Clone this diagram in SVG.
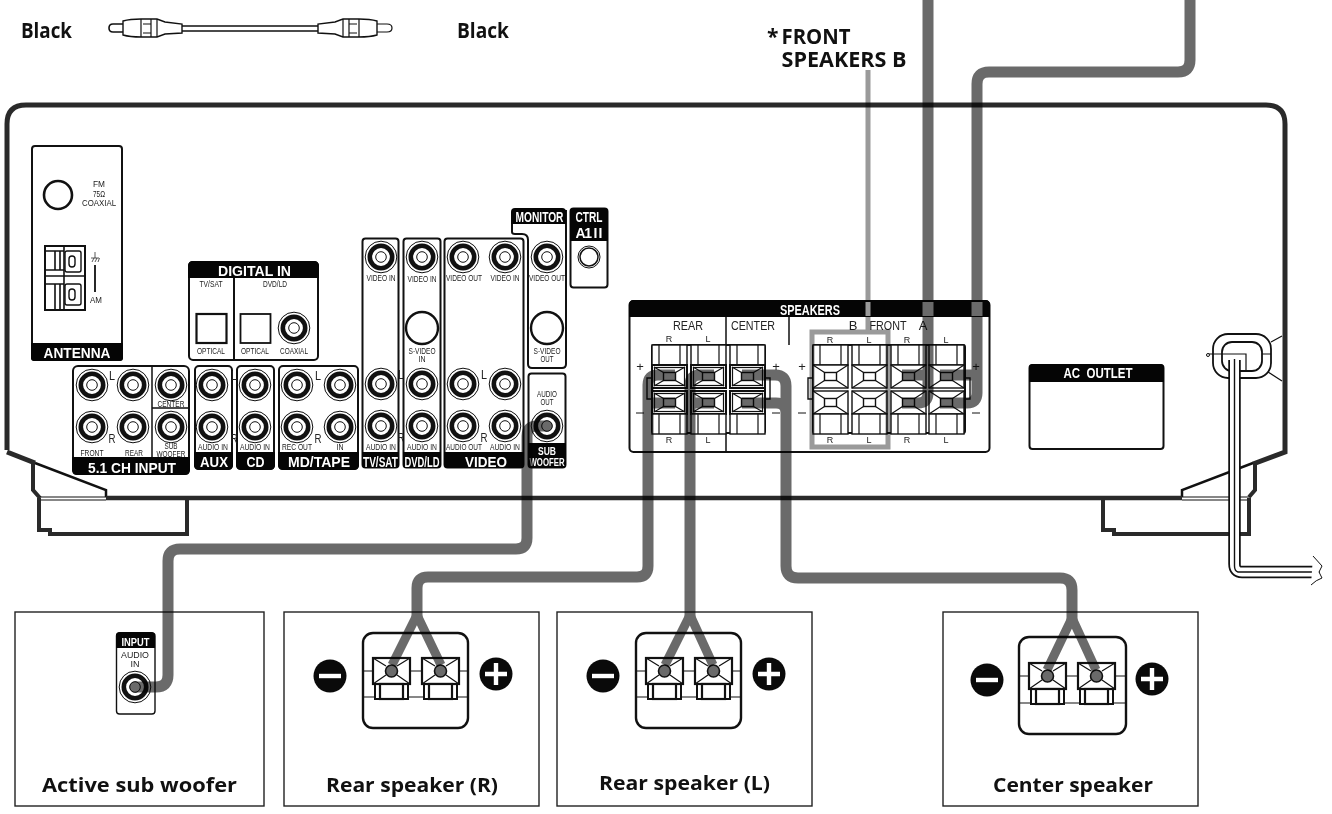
<svg xmlns="http://www.w3.org/2000/svg" xmlns:xlink="http://www.w3.org/1999/xlink" width="1332" height="814" viewBox="0 0 1332 814">
<style>
text{font-family:"Liberation Sans",Arial,sans-serif;fill:#222;text-anchor:middle}
.cap{font-family:"Open Sans","Noto Sans",sans-serif;font-weight:700;fill:#111;font-size:21px;text-anchor:start}
.capc{font-family:"Open Sans","Noto Sans",sans-serif;font-weight:700;fill:#111;font-size:20px;text-anchor:start}
.w{fill:#fff;font-weight:700;font-size:14px}
.s{font-size:9px}
.m{font-size:13px}
.box{fill:#fff;stroke:#111;stroke-width:2}
.thin{fill:none;stroke:#111;stroke-width:1.200}
.tf{fill:#fff;stroke:#111;stroke-width:1.400}
.hd{fill:#050505}
.ch{fill:none;stroke:#2a2a2a;stroke-width:5}
.cab{fill:none;stroke:#6a6a6a;stroke-width:11}
.fork{fill:none;stroke:#6a6a6a;stroke-width:9;stroke-linejoin:bevel}
.panel{fill:#fff;stroke:#222;stroke-width:1.400}
.bx{fill:#fff;stroke:#111;stroke-width:2.400}
</style>
<defs>
<g id="jack"><circle r="15.800" fill="#fff" stroke="#111" stroke-width="1"/><circle r="11.200" fill="#fff" stroke="#111" stroke-width="4.600"/><circle r="5.300" fill="#fff" stroke="#111" stroke-width="1"/></g>
<g id="sq"><rect width="35" height="23" class="tf"/><rect x="11.500" y="7.500" width="12" height="8" class="tf"/><path d="M0 0 11.500 7.500M35 0 23.500 7.500M0 23 11.500 15.500M35 23 23.500 15.500" class="thin"/></g>
<g id="sqr"><rect width="35" height="23" fill="#fff" stroke="#111" stroke-width="2"/><rect x="2.500" y="2.500" width="30" height="18" class="thin"/><rect x="11.500" y="7.500" width="12" height="8" class="tf"/><path d="M2 2 11.500 7.500M33 2 23.500 7.500M2 21 11.500 15.500M33 21 23.500 15.500" class="thin"/></g>
<g id="term"><path d="M2 26V41H35V26" fill="#fff" stroke="#111" stroke-width="2"/><rect width="37" height="26" fill="#fff" stroke="#111" stroke-width="2.200"/><path d="M0 0 13 8M37 0 24 8M0 26 13 17M37 26 24 17" class="thin"/><rect x="7" y="26" width="23" height="15" fill="#fff" stroke="#111" stroke-width="2.200"/><circle cx="18.500" cy="13" r="6" fill="#6a6a6a" stroke="#111" stroke-width="1.600"/></g>
<g id="cellT"><rect width="35" height="20" class="tf"/><path d="M7 0V20M28 0V20" class="thin"/></g>
<g id="minus"><circle r="16.500" fill="#0a0a0a"/><rect x="-11" y="-2.200" width="22" height="4.400" fill="#fff"/></g>
<g id="plus"><circle r="16.500" fill="#0a0a0a"/><path d="M-11 0H11M0-11V11" stroke="#fff" stroke-width="4.400"/></g>
</defs>
<rect width="1332" height="814" fill="#fff"/>

<g id="rca-cable">
<text class="cap" x="21" y="38" textLength="51" lengthAdjust="spacingAndGlyphs">Black</text>
<text class="cap" x="457" y="38" textLength="52" lengthAdjust="spacingAndGlyphs">Black</text>
<path d="M123 24H113Q109 24 109 28Q109 32 113 32H123M182 26H318M182 31H318" fill="none" stroke="#111" stroke-width="1.600"/>
<path d="M123 21Q130 19 141 19H157L165 22L182 24V33L165 34L157 37H141Q130 37 123 35Z" class="tf"/>
<path d="M141 19V37M151 19V37M157 19V37M143 24H151M143 33H151" class="thin"/>
<path d="M377 24H387Q392 24 392 28Q392 32 387 32H377" class="thin"/>
<path d="M377 21Q370 19 359 19H343L335 22L318 24V33L335 34L343 37H359Q370 37 377 35Z" class="tf"/>
<path d="M359 19V37M349 19V37M343 19V37M357 24H349M357 33H349" class="thin"/>
</g>
<g id="front-b-label">
<text class="cap" x="767" y="44">*</text>
<text class="cap" x="781.500" y="44" textLength="69" lengthAdjust="spacingAndGlyphs">FRONT</text>
<text class="cap" x="781.500" y="67" textLength="125" lengthAdjust="spacingAndGlyphs">SPEAKERS B</text>
</g>

<g id="chassis">
<path d="M7 450V124Q7 105 26 105H1266Q1285 105 1285 124V452L1253 464" class="ch"/>
<path d="M7 452L35 463" class="ch"/>
<path d="M35 463L106 490V497M1253 463L1182 490V497" fill="none" stroke="#111" stroke-width="2.500"/>
<path d="M33 463V490L40 498M1255 463V490L1249 497" class="ch" style="stroke-width:4"/>
<path d="M106 498H1182" class="ch" style="stroke-width:4.500"/>
<path d="M40 497H106M40 500H106M1182 497H1250M1182 500H1250" class="thin"/>
<path d="M39 498V530H50V534H187V498M1103 498V530H1114V534H1249V498" fill="none" stroke="#2a2a2a" stroke-width="4"/>
</g>

<g id="antenna">
<rect x="32" y="146" width="90" height="214" rx="3" class="box"/>
<path d="M31 343H123V358Q123 361 120 361H34Q31 361 31 358Z" class="hd"/>
<text class="w" x="77" y="358" textLength="67" lengthAdjust="spacingAndGlyphs">ANTENNA</text>
<circle cx="58" cy="195" r="14" fill="#fff" stroke="#111" stroke-width="2.600"/>
<text x="99" y="187" font-size="9" textLength="12" lengthAdjust="spacingAndGlyphs">FM</text><text x="99" y="197" font-size="9" textLength="12" lengthAdjust="spacingAndGlyphs">75Ω</text>
<text x="99" y="206" font-size="9.500" textLength="34" lengthAdjust="spacingAndGlyphs">COAXIAL</text>
<rect x="45" y="246" width="40" height="64" fill="#fff" stroke="#111" stroke-width="2"/>
<path d="M45 251H64M45 270H64M45 276H85M45 284H64M55 251V270M60 251V270M55 284V309M60 284V309M64 246V310" fill="none" stroke="#111" stroke-width="1.600"/>
<rect x="65" y="251" width="16" height="21" rx="2" class="tf"/><rect x="65" y="284" width="16" height="21" rx="2" class="tf"/>
<rect x="69" y="256" width="6" height="11" rx="3" class="tf"/><rect x="69" y="289" width="6" height="11" rx="3" class="tf"/>
<path d="M95 252V258M91 258H99M92 262L94 258M95 262L97 258M98 262L99.500 258" class="thin" style="stroke-width:.7"/>
<path d="M95 265V292" stroke="#111" stroke-width="1.800"/>
<text x="96" y="303" font-size="9" textLength="12" lengthAdjust="spacingAndGlyphs">AM</text>
</g>

<g id="digital-in">
<rect x="189" y="262" width="129" height="98" rx="4" class="box"/>
<path d="M188 278V266Q188 261 193 261H314Q319 261 319 266V278Z" class="hd"/>
<text class="w" x="254.500" y="276" textLength="73" lengthAdjust="spacingAndGlyphs">DIGITAL IN</text>
<path d="M234 278V360" stroke="#111" stroke-width="2"/>
<text class="s" x="211" y="287" textLength="23" lengthAdjust="spacingAndGlyphs">TV/SAT</text><text class="s" x="275" y="287" textLength="24" lengthAdjust="spacingAndGlyphs">DVD/LD</text>
<rect x="196.500" y="314" width="30" height="29" fill="#fff" stroke="#111" stroke-width="2.200"/>
<rect x="240.500" y="314" width="30" height="29" fill="#fff" stroke="#111" stroke-width="1.800"/>
<use xlink:href="#jack" href="#jack" x="294" y="328"/>
<text class="s" x="211" y="354" textLength="28" lengthAdjust="spacingAndGlyphs">OPTICAL</text><text class="s" x="255" y="354" textLength="28" lengthAdjust="spacingAndGlyphs">OPTICAL</text><text class="s" x="294" y="354" textLength="28" lengthAdjust="spacingAndGlyphs">COAXIAL</text>
</g>

<g id="ch51">
<rect x="73" y="366" width="116" height="108" rx="5" class="box"/>
<path d="M72 457H190V470Q190 475 185 475H77Q72 475 72 470Z" class="hd"/>
<text class="w" x="132" y="473" textLength="88" lengthAdjust="spacingAndGlyphs">5.1 CH INPUT</text>
<path d="M152 366V457M152 408H189" stroke="#111" stroke-width="1.500"/>
<use xlink:href="#jack" href="#jack" x="92" y="385"/><use xlink:href="#jack" href="#jack" x="133" y="385"/><use xlink:href="#jack" href="#jack" x="171" y="385"/>
<use xlink:href="#jack" href="#jack" x="92" y="427"/><use xlink:href="#jack" href="#jack" x="133" y="427"/><use xlink:href="#jack" href="#jack" x="171" y="427"/>
<text class="m" x="112" y="380" textLength="6" lengthAdjust="spacingAndGlyphs">L</text><text class="m" x="112" y="443" textLength="7" lengthAdjust="spacingAndGlyphs">R</text>
<text class="s" x="92" y="456" textLength="23" lengthAdjust="spacingAndGlyphs">FRONT</text><text class="s" x="134" y="456" textLength="18" lengthAdjust="spacingAndGlyphs">REAR</text>
<text class="s" x="171" y="407" textLength="27" lengthAdjust="spacingAndGlyphs">CENTER</text><text class="s" x="171" y="449" textLength="13" lengthAdjust="spacingAndGlyphs">SUB</text><text class="s" x="171" y="456.500" textLength="29" lengthAdjust="spacingAndGlyphs">WOOFER</text>
</g>

<g id="aux">
<rect x="195" y="366" width="37" height="103" rx="4" class="box"/>
<path d="M194 452H233V465Q233 470 228 470H199Q194 470 194 465Z" class="hd"/>
<text class="w" x="214" y="467" textLength="28" lengthAdjust="spacingAndGlyphs">AUX</text>
<use xlink:href="#jack" href="#jack" x="212" y="385"/><use xlink:href="#jack" href="#jack" x="212" y="427"/>
<text class="s" x="213" y="450" textLength="30" lengthAdjust="spacingAndGlyphs">AUDIO IN</text>
</g>
<g id="cd">
<rect x="237" y="366" width="37" height="103" rx="4" class="box"/>
<path d="M236 452H275V465Q275 470 270 470H241Q236 470 236 465Z" class="hd"/>
<text class="w" x="255.500" y="467" textLength="18" lengthAdjust="spacingAndGlyphs">CD</text>
<use xlink:href="#jack" href="#jack" x="255" y="385"/><use xlink:href="#jack" href="#jack" x="255" y="427"/>
<text class="s" x="255" y="450" textLength="30" lengthAdjust="spacingAndGlyphs">AUDIO IN</text>
<text class="m" x="234" y="380" textLength="6" lengthAdjust="spacingAndGlyphs">L</text><text class="m" x="234" y="443" textLength="7" lengthAdjust="spacingAndGlyphs">R</text>
</g>
<g id="md-tape">
<rect x="279" y="366" width="79" height="103" rx="4" class="box"/>
<path d="M278 452H359V465Q359 470 354 470H283Q278 470 278 465Z" class="hd"/>
<text class="w" x="319" y="467" textLength="62" lengthAdjust="spacingAndGlyphs">MD/TAPE</text>
<use xlink:href="#jack" href="#jack" x="297" y="385"/><use xlink:href="#jack" href="#jack" x="340" y="385"/>
<use xlink:href="#jack" href="#jack" x="297" y="427"/><use xlink:href="#jack" href="#jack" x="340" y="427"/>
<text class="m" x="318" y="380" textLength="6" lengthAdjust="spacingAndGlyphs">L</text><text class="m" x="318" y="443" textLength="7" lengthAdjust="spacingAndGlyphs">R</text>
<text class="s" x="297" y="450" textLength="30" lengthAdjust="spacingAndGlyphs">REC OUT</text><text class="s" x="340" y="450" textLength="7" lengthAdjust="spacingAndGlyphs">IN</text>
</g>
<g id="tv-sat">
<rect x="362.500" y="238.500" width="36" height="229" rx="3" class="box"/>
<path d="M362 452H399V464Q399 468 395 468H366Q362 468 362 464Z" class="hd"/>
<text class="w" x="380.500" y="467" textLength="35" lengthAdjust="spacingAndGlyphs">TV/SAT</text>
<use xlink:href="#jack" href="#jack" x="381" y="257"/><use xlink:href="#jack" href="#jack" x="381" y="384"/><use xlink:href="#jack" href="#jack" x="381" y="426"/>
<text class="s" x="381" y="281" textLength="29" lengthAdjust="spacingAndGlyphs">VIDEO IN</text><text class="s" x="381" y="450" textLength="30" lengthAdjust="spacingAndGlyphs">AUDIO IN</text>
<text class="m" x="401" y="379" textLength="6" lengthAdjust="spacingAndGlyphs">L</text><text class="m" x="401" y="442" textLength="7" lengthAdjust="spacingAndGlyphs">R</text>
</g>
<g id="dvd-ld">
<rect x="403.500" y="238.500" width="37" height="229" rx="3" class="box"/>
<path d="M403 452H441V464Q441 468 437 468H407Q403 468 403 464Z" class="hd"/>
<text class="w" x="422" y="467" textLength="35" lengthAdjust="spacingAndGlyphs">DVD/LD</text>
<use xlink:href="#jack" href="#jack" x="422" y="257"/><circle cx="422" cy="328" r="16" fill="#fff" stroke="#111" stroke-width="2.400"/><use xlink:href="#jack" href="#jack" x="422" y="384"/><use xlink:href="#jack" href="#jack" x="422" y="426"/>
<text class="s" x="422" y="282" textLength="29" lengthAdjust="spacingAndGlyphs">VIDEO IN</text><text class="s" x="422" y="354" textLength="27" lengthAdjust="spacingAndGlyphs">S-VIDEO</text><text class="s" x="422" y="362" textLength="7" lengthAdjust="spacingAndGlyphs">IN</text><text class="s" x="422" y="450" textLength="30" lengthAdjust="spacingAndGlyphs">AUDIO IN</text>
</g>
<g id="video">
<rect x="444.500" y="238.500" width="79" height="229" rx="3" class="box"/>
<path d="M444 452H524V464Q524 468 520 468H448Q444 468 444 464Z" class="hd"/>
<text class="w" x="486" y="467" textLength="42" lengthAdjust="spacingAndGlyphs">VIDEO</text>
<use xlink:href="#jack" href="#jack" x="463" y="257"/><use xlink:href="#jack" href="#jack" x="505" y="257"/><use xlink:href="#jack" href="#jack" x="463" y="384"/><use xlink:href="#jack" href="#jack" x="505" y="384"/><use xlink:href="#jack" href="#jack" x="463" y="426"/><use xlink:href="#jack" href="#jack" x="505" y="426"/>
<text class="s" x="464" y="281" textLength="36" lengthAdjust="spacingAndGlyphs">VIDEO OUT</text><text class="s" x="505" y="281" textLength="29" lengthAdjust="spacingAndGlyphs">VIDEO IN</text><text class="s" x="464" y="450" textLength="36" lengthAdjust="spacingAndGlyphs">AUDIO OUT</text><text class="s" x="505" y="450" textLength="30" lengthAdjust="spacingAndGlyphs">AUDIO IN</text>
<text class="m" x="484" y="379" textLength="6" lengthAdjust="spacingAndGlyphs">L</text><text class="m" x="484" y="442" textLength="7" lengthAdjust="spacingAndGlyphs">R</text>
</g>
<g id="monitor">
<path d="M512 224V232Q512 234 515 234H522Q528 234 528 240V364Q528 368 532 368H562Q566 368 566 364V210" class="box"/>
<path d="M511 224V212Q511 208 515 208H562Q566 208 566 212V224Z" class="hd"/>
<text class="w" x="539.500" y="222" textLength="48" lengthAdjust="spacingAndGlyphs">MONITOR</text>
<use xlink:href="#jack" href="#jack" x="547" y="257"/><circle cx="547" cy="328" r="16" fill="#fff" stroke="#111" stroke-width="2.400"/>
<text class="s" x="547" y="281" textLength="36" lengthAdjust="spacingAndGlyphs">VIDEO OUT</text><text class="s" x="547" y="354" textLength="27" lengthAdjust="spacingAndGlyphs">S-VIDEO</text><text class="s" x="547" y="362" textLength="13" lengthAdjust="spacingAndGlyphs">OUT</text>
</g>
<g id="subwoofer">
<rect x="528.500" y="373.500" width="37" height="94" rx="3" class="box"/>
<path d="M528 443H566V464Q566 468 562 468H532Q528 468 528 464Z" class="hd"/>
<text class="w" x="547" y="455" textLength="18" lengthAdjust="spacingAndGlyphs" style="font-size:11.500px">SUB</text>
<text class="w" x="547" y="466" textLength="35" lengthAdjust="spacingAndGlyphs" style="font-size:11.500px">WOOFER</text>
<text class="s" x="547" y="397" textLength="20" lengthAdjust="spacingAndGlyphs">AUDIO</text><text class="s" x="547" y="405" textLength="13" lengthAdjust="spacingAndGlyphs">OUT</text>
<use xlink:href="#jack" href="#jack" x="547" y="426"/>
</g>
<g id="ctrl">
<rect x="570.500" y="208.500" width="37" height="79" rx="3" class="box"/>
<path d="M570 241V212Q570 208 574 208H604Q608 208 608 212V241Z" class="hd"/>
<text class="w" x="589" y="222" textLength="27" lengthAdjust="spacingAndGlyphs">CTRL</text>
<text class="w" x="589" y="238" textLength="27" lengthAdjust="spacing">A1 I I</text>
<circle cx="589" cy="257" r="11" fill="#fff" stroke="#111" stroke-width="1"/><circle cx="589" cy="257" r="9" fill="#fff" stroke="#111" stroke-width="1.500"/>
</g>

<g id="speakers">
<rect x="629.500" y="301" width="360" height="151" rx="4" class="box"/>
<path d="M629 317V305Q629 300 634 300H985Q990 300 990 305V317Z" class="hd"/>
<text class="w" x="810" y="315" textLength="60" lengthAdjust="spacingAndGlyphs">SPEAKERS</text>
<path d="M726 317V452M789 317V345" stroke="#111" stroke-width="1.500"/>
<text x="688" y="330" font-size="13" textLength="30" lengthAdjust="spacingAndGlyphs">REAR</text><text x="753" y="330" font-size="13" textLength="44" lengthAdjust="spacingAndGlyphs">CENTER</text><text x="853" y="330" font-size="13">B</text><text x="888" y="330" font-size="13" textLength="37" lengthAdjust="spacingAndGlyphs">FRONT</text><text x="923" y="330" font-size="13">A</text>
<g id="rear-terms">
<path d="M652 378H647V399H652M765 378H770V399H765" class="tf"/>
<rect x="652" y="345" width="113" height="88" rx="2" class="box"/>
<use xlink:href="#cellT" href="#cellT" x="652" y="345"/><use xlink:href="#cellT" href="#cellT" x="691" y="345"/><use xlink:href="#cellT" href="#cellT" x="730" y="345"/>
<use xlink:href="#sqr" href="#sqr" x="652" y="365"/><use xlink:href="#sqr" href="#sqr" x="691" y="365"/><use xlink:href="#sqr" href="#sqr" x="730" y="365"/>
<use xlink:href="#sqr" href="#sqr" x="652" y="391"/><use xlink:href="#sqr" href="#sqr" x="691" y="391"/><use xlink:href="#sqr" href="#sqr" x="730" y="391"/>
<use xlink:href="#cellT" href="#cellT" x="652" y="414"/><use xlink:href="#cellT" href="#cellT" x="691" y="414"/><use xlink:href="#cellT" href="#cellT" x="730" y="414"/>
</g>
<g id="front-terms">
<path d="M813 378H808V399H813M965 378H970V399H965" class="tf"/>
<rect x="813" y="345" width="152" height="88" rx="2" class="box"/>
<use xlink:href="#cellT" href="#cellT" x="813" y="345"/><use xlink:href="#cellT" href="#cellT" x="852" y="345"/><use xlink:href="#cellT" href="#cellT" x="891" y="345"/><use xlink:href="#cellT" href="#cellT" x="929" y="345"/>
<use xlink:href="#sq" href="#sq" x="813" y="365"/><use xlink:href="#sq" href="#sq" x="852" y="365"/><use xlink:href="#sq" href="#sq" x="891" y="365"/><use xlink:href="#sq" href="#sq" x="929" y="365"/>
<use xlink:href="#sq" href="#sq" x="813" y="391"/><use xlink:href="#sq" href="#sq" x="852" y="391"/><use xlink:href="#sq" href="#sq" x="891" y="391"/><use xlink:href="#sq" href="#sq" x="929" y="391"/>
<use xlink:href="#cellT" href="#cellT" x="813" y="414"/><use xlink:href="#cellT" href="#cellT" x="852" y="414"/><use xlink:href="#cellT" href="#cellT" x="891" y="414"/><use xlink:href="#cellT" href="#cellT" x="929" y="414"/>
</g>
<text class="s" x="669" y="342">R</text><text class="s" x="708" y="342">L</text><text class="s" x="830" y="343">R</text><text class="s" x="869" y="343">L</text><text class="s" x="907" y="343">R</text><text class="s" x="946" y="343">L</text>
<text class="s" x="669" y="443">R</text><text class="s" x="708" y="443">L</text><text class="s" x="830" y="443">R</text><text class="s" x="869" y="443">L</text><text class="s" x="907" y="443">R</text><text class="s" x="946" y="443">L</text>
<text class="m" x="640" y="371">+</text><text class="m" x="776" y="371">+</text><text class="m" x="802" y="371">+</text><text class="m" x="976" y="371">+</text>
<path d="M636 413H644M772 413H780M798 413H806M972 413H980" stroke="#111"/>
</g>

<g id="ac-outlet">
<rect x="1029.500" y="365" width="134" height="84" rx="3" class="box"/>
<path d="M1029 382V368Q1029 364 1033 364H1160Q1164 364 1164 368V382Z" class="hd"/>
<text class="w" x="1098" y="378" textLength="69" lengthAdjust="spacingAndGlyphs" xml:space="preserve">AC  OUTLET</text>
</g>

<g id="active-sub-woofer">
<rect x="15" y="612" width="249" height="194" class="panel"/>
<rect x="116.500" y="633" width="38.500" height="81" rx="3" class="tf"/>
<path d="M116 648V636Q116 632 120 632H151Q155 632 155 636V648Z" class="hd"/>
<text class="w" x="135.500" y="646" textLength="28" lengthAdjust="spacingAndGlyphs" style="font-size:11px">INPUT</text>
<text x="135" y="658" font-size="9" textLength="28" lengthAdjust="spacingAndGlyphs">AUDIO</text><text x="135" y="667" font-size="9">IN</text>
<use xlink:href="#jack" href="#jack" x="135" y="687"/>
<text class="capc" x="42" y="792" textLength="195" lengthAdjust="spacingAndGlyphs">Active sub woofer</text>
</g>
<g id="rear-speaker-r">
<rect x="284" y="612" width="255" height="194" class="panel"/>
<rect x="363" y="633" width="105" height="95" rx="10" class="bx"/>
<path d="M363 671H373M410 671H422M459 671H468M363 697H468" class="thin"/>
<use xlink:href="#term" href="#term" x="373" y="658"/><use xlink:href="#term" href="#term" x="422" y="658"/>
<use xlink:href="#minus" href="#minus" x="330" y="676"/><use xlink:href="#plus" href="#plus" x="496" y="674"/>
<text class="capc" x="326" y="792" textLength="172" lengthAdjust="spacingAndGlyphs">Rear speaker (R)</text>
</g>
<g id="rear-speaker-l">
<rect x="557" y="612" width="255" height="194" class="panel"/>
<rect x="636" y="633" width="105" height="95" rx="10" class="bx"/>
<path d="M636 671H646M683 671H695M732 671H741M636 697H741" class="thin"/>
<use xlink:href="#term" href="#term" x="646" y="658"/><use xlink:href="#term" href="#term" x="695" y="658"/>
<use xlink:href="#minus" href="#minus" x="603" y="676"/><use xlink:href="#plus" href="#plus" x="769" y="674"/>
<text class="capc" x="599" y="790" textLength="171" lengthAdjust="spacingAndGlyphs">Rear speaker (L)</text>
</g>
<g id="center-speaker">
<rect x="943" y="612" width="255" height="194" class="panel"/>
<rect x="1019" y="637" width="107" height="97" rx="10" class="bx"/>
<path d="M1019 676H1029M1066 676H1078M1115 676H1126M1019 703H1126" class="thin"/>
<use xlink:href="#term" href="#term" x="1029" y="663"/><use xlink:href="#term" href="#term" x="1078" y="663"/>
<use xlink:href="#minus" href="#minus" x="987" y="680"/><use xlink:href="#plus" href="#plus" x="1152" y="679"/>
<text class="capc" x="993" y="792" textLength="160" lengthAdjust="spacingAndGlyphs">Center speaker</text>
</g>

<g id="connectors">
<g style="mix-blend-mode:multiply">
<path d="M868 70V332H812V447H888V332H868" fill="none" stroke="#9a9a9a" stroke-width="5"/>
<path class="cab" d="M928 0V393Q928 403 918 403H902M928 375H902"/>
<path class="cab" d="M1190 0V60Q1190 72 1178 72H989Q977 72 977 84V393Q977 403 967 403H940M977 375H940"/>
<path class="cab" d="M547 426H537Q527 426 527 436V538Q527 549 516 549H180Q168 549 168 561V675Q168 687 156 687H135"/>
<circle cx="547" cy="426" r="5.500" fill="#6a6a6a"/><circle cx="135" cy="687" r="5.500" fill="#6a6a6a"/>
<path class="cab" d="M675 375H658Q648 375 648 385V566Q648 577 637 577H428Q417 577 417 588V620M675 403H648"/>
<path class="fork" d="M392 665L417 615L441 665"/>
<path class="cab" d="M714 375H700Q690 375 690 385V620M714 403H690"/>
<path class="fork" d="M665 665L690 615L713 665"/>
<path class="cab" d="M742 375H775Q786 375 786 386V566Q786 578 798 578H1060Q1072 578 1072 590V622M742 403H776Q786 403 786 413"/>
<path class="fork" d="M1047 670L1072 618L1096 670"/>
</g>
<rect x="865.500" y="302" width="5" height="14" fill="#9a9a9a"/>
<rect x="922.500" y="302" width="11" height="14" fill="#6a6a6a"/>
<rect x="971.500" y="302" width="11" height="14" fill="#6a6a6a"/>
</g>

<g id="power-cord">
<rect x="1213" y="334" width="58" height="44" rx="15" fill="#fff" stroke="#111" stroke-width="1.800"/>
<rect x="1222" y="342" width="40" height="29" rx="10" fill="#fff" stroke="#111" stroke-width="1.800"/>
<path d="M1208 354H1246V371M1262 354H1271M1271 342L1282 336M1268 372L1282 381" class="thin"/>
<circle cx="1208" cy="355" r="1.500" fill="#fff" stroke="#111"/>
<path d="M1234.500 360V564Q1234.500 572 1242 572H1320" fill="none" stroke="#111" stroke-width="12.500"/>
<path d="M1234.500 360V564Q1234.500 572 1242 572H1323" fill="none" stroke="#fff" stroke-width="9"/>
<path d="M1234.500 359V566Q1234.500 571 1238 572H1320" fill="none" stroke="#111" stroke-width="1.400"/>
<path d="M1313 556L1322 566L1319 572L1322 578Q1316 580 1311 585" fill="#fff" stroke="#111"/>
</g>
</svg>
